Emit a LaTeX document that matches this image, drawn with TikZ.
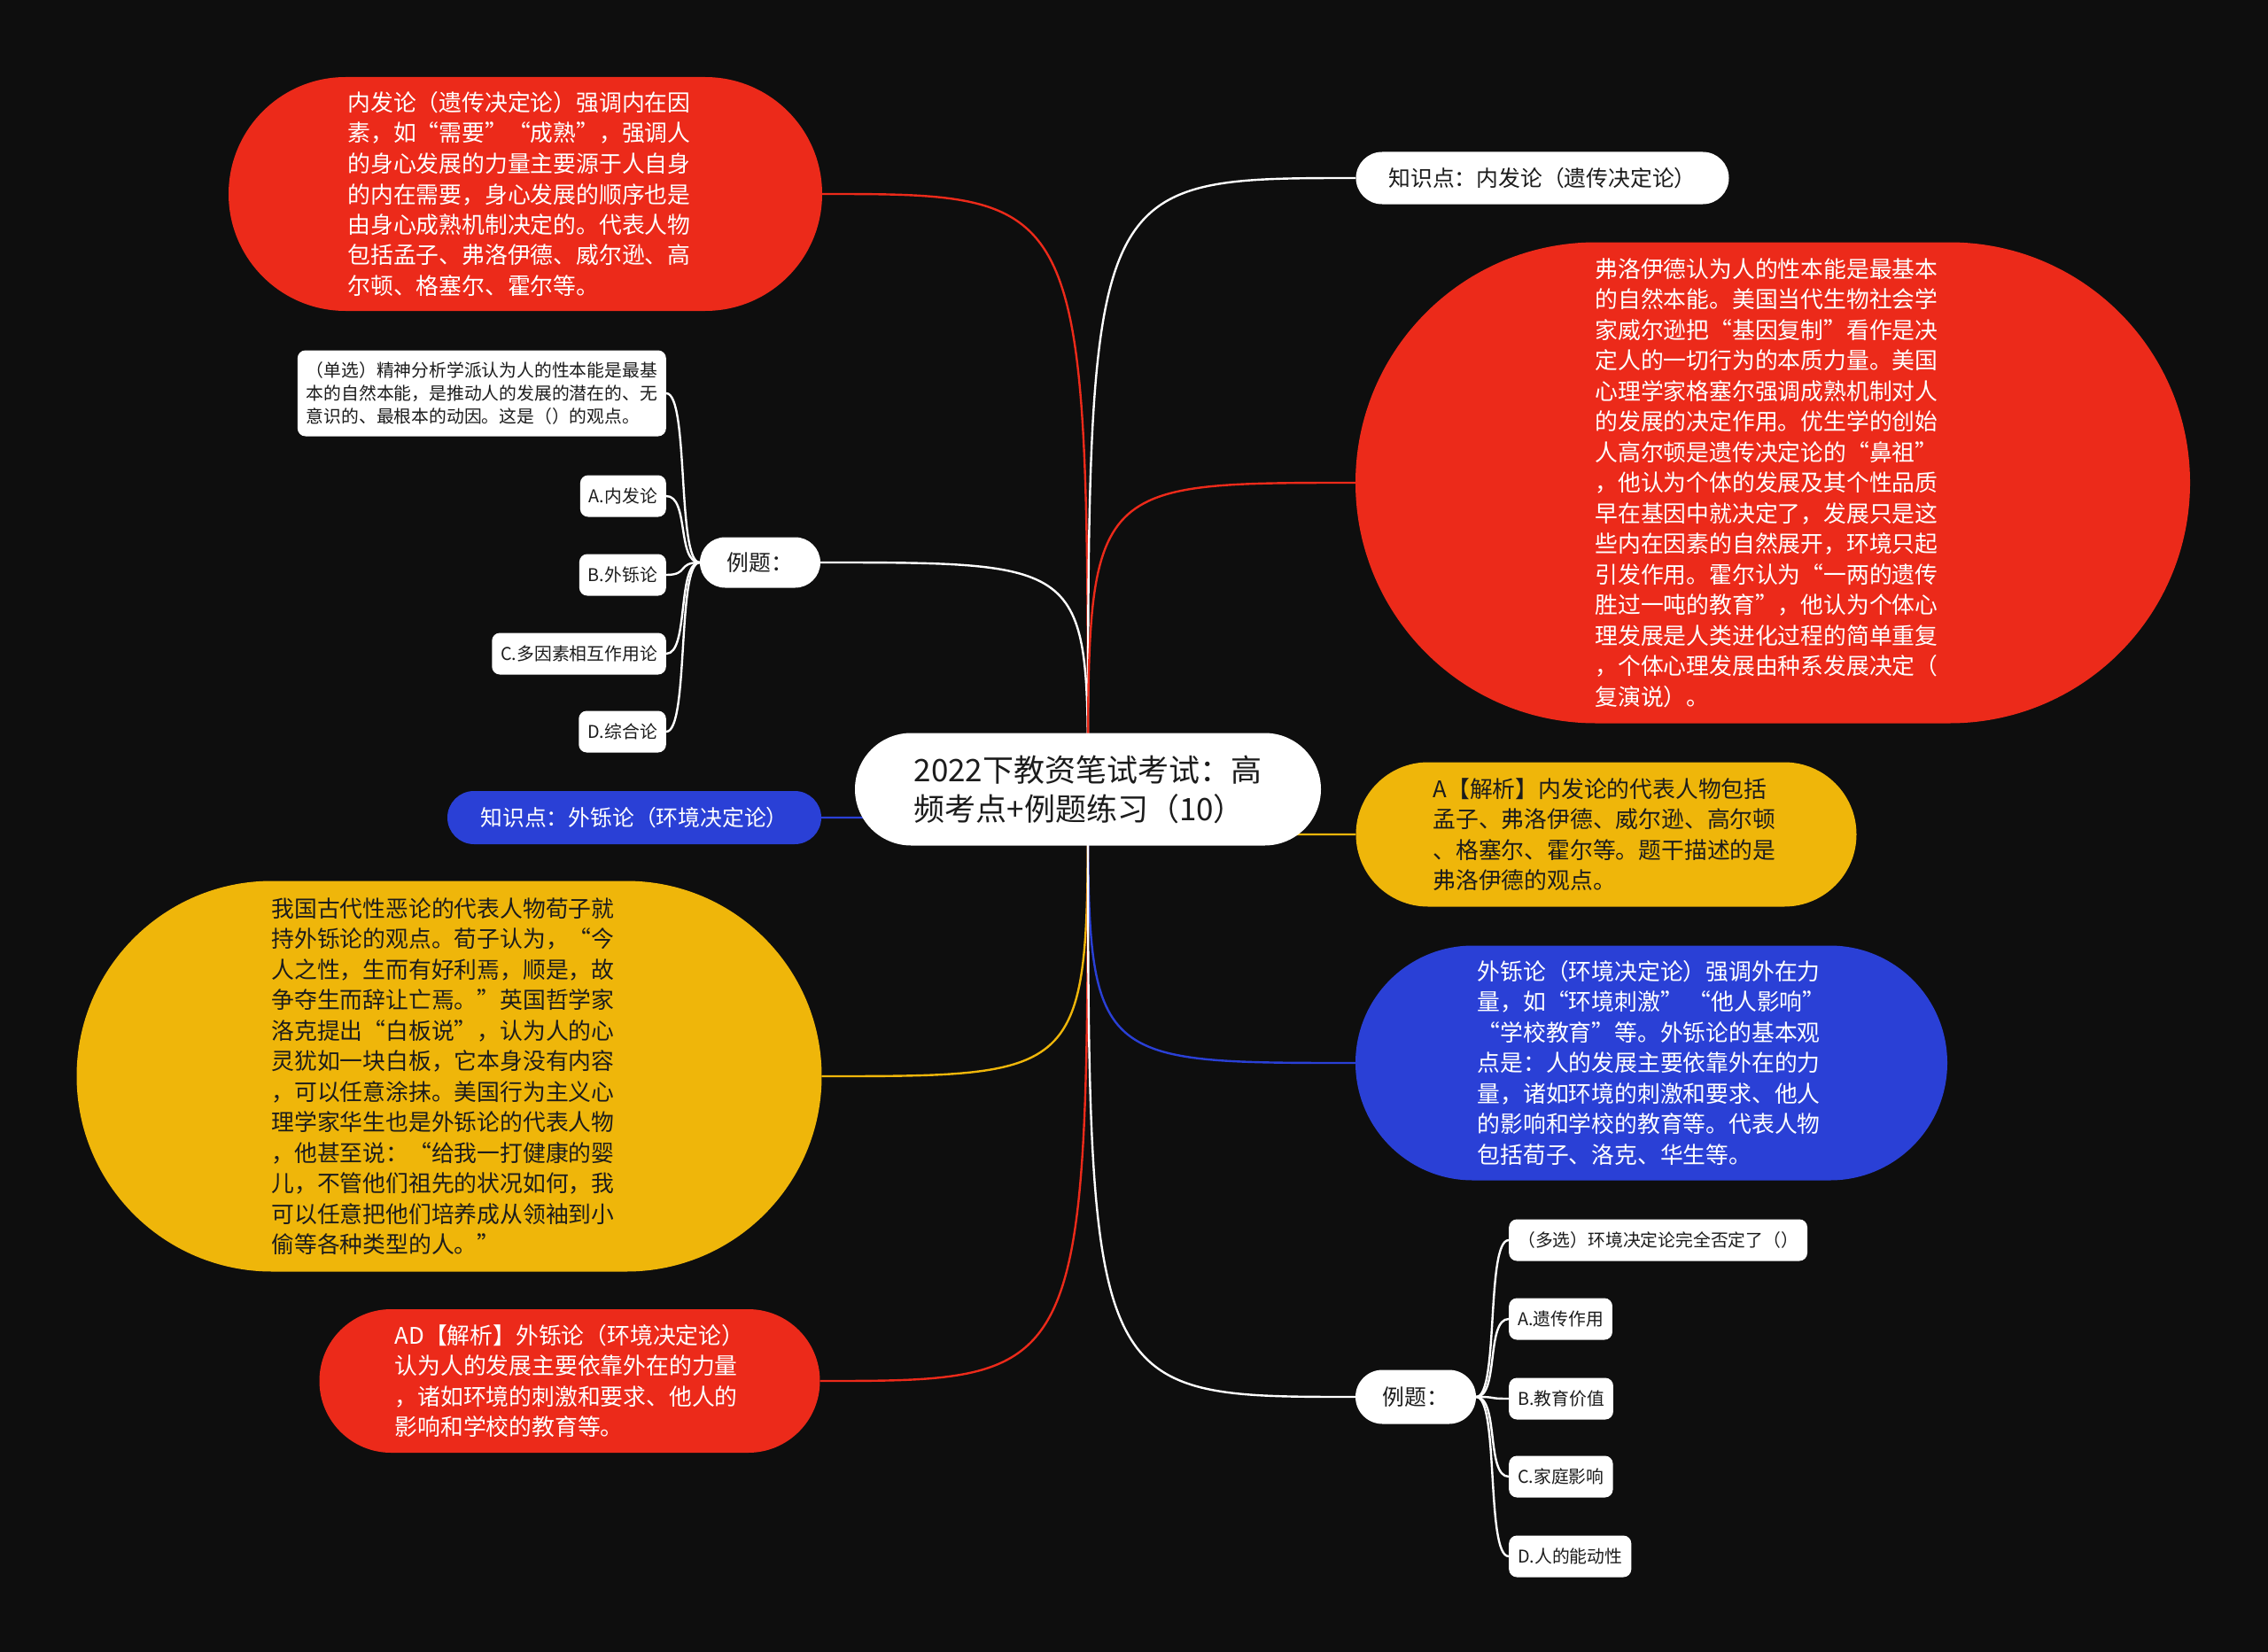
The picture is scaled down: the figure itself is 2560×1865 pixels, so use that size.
\documentclass[tikz,border=0pt]{standalone}
\usepackage{fontspec}
\setmainfont{Noto Sans CJK SC}
\usetikzlibrary{shapes.misc}

\definecolor{bgblack}{RGB}{14,14,14}
\definecolor{mapred}{RGB}{236,42,26}
\definecolor{mapyellow}{RGB}{239,182,10}
\definecolor{mapblue}{RGB}{42,64,214}
\definecolor{inkdark}{RGB}{28,28,28}

\pgfdeclarelayer{back}
\pgfdeclarelayer{links}
\pgfsetlayers{back,links,main}

\newcommand\tailpad{\kern14pt}

\tikzstyle{bubble} = [rounded rectangle, align=left, inner sep=0pt]
\tikzstyle{body} = [font=\fontsize{25.8}{34.5}\selectfont]
\tikzstyle{pill} = [rounded rectangle, fill=white, text=inkdark, inner sep=0pt,
	font=\fontsize{24.8}{30}\selectfont]
\tikzstyle{choice} = [rectangle, rounded corners=9pt, fill=white, text=inkdark,
	minimum height=47, inner xsep=10pt, align=left, font=\fontsize{19.8}{26}\selectfont]
\tikzstyle{conn} = [line width=2.4pt]

\begin{document}
\begin{tikzpicture}[x=1pt,y=-1pt]
\useasboundingbox (0,0) rectangle (2560,1865);
\begin{pgfonlayer}{back}
\fill[bgblack] (0,0) rectangle (2560,1865);
\end{pgfonlayer}

\node [bubble, fill=white, text=inkdark, minimum width=526, minimum height=127,
	font=\fontsize{35}{44}\selectfont] (root) at (1228,891)
	{2022下教资笔试考试：高\\频考点+例题练习（10）};

% left side
\node [bubble, body, fill=mapred, text=white, minimum width=670, minimum height=264] (nei) at (593,219)
	{内发论（遗传决定论）强调内在因\tailpad\\
	素，如“需要”“成熟”，强调人\\
	的身心发展的力量主要源于人自身\\
	的内在需要，身心发展的顺序也是\\
	由身心成熟机制决定的。代表人物\\
	包括孟子、弗洛伊德、威尔逊、高\\
	尔顿、格塞尔、霍尔等。};
\node [pill, minimum width=136, minimum height=57] (exl) at (858,635) {例题：};
\node [choice, anchor=east, minimum height=97] (ql) at (752,444)
	{（单选）精神分析学派认为人的性本能是最基\\
	本的自然本能，是推动人的发展的潜在的、无\\
	意识的、最根本的动因。这是（）的观点。};
\node [choice, anchor=east] (al) at (752,560) {A.内发论};
\node [choice, anchor=east] (bl) at (752,649) {B.外铄论};
\node [choice, anchor=east] (cl) at (752,738) {C.多因素相互作用论};
\node [choice, anchor=east] (dl) at (752,826) {D.综合论};
\node [pill, fill=mapblue, text=white, minimum width=422, minimum height=60] (waik) at (716,923)
	{知识点：外铄论（环境决定论）};
\node [bubble, body, fill=mapyellow, text=inkdark, minimum width=841, minimum height=441] (xunzi) at (507,1215)
	{我国古代性恶论的代表人物荀子就\tailpad\\
	持外铄论的观点。荀子认为，“今\\
	人之性，生而有好利焉，顺是，故\\
	争夺生而辞让亡焉。”英国哲学家\\
	洛克提出“白板说”，认为人的心\\
	灵犹如一块白板，它本身没有内容\\
	，可以任意涂抹。美国行为主义心\\
	理学家华生也是外铄论的代表人物\\
	，他甚至说：“给我一打健康的婴\\
	儿，不管他们祖先的状况如何，我\\
	可以任意把他们培养成从领袖到小\\
	偷等各种类型的人。”};
\node [bubble, body, fill=mapred, text=white, minimum width=565, minimum height=162] (adjie) at (643,1559)
	{AD【解析】外铄论（环境决定论）\\
	认为人的发展主要依靠外在的力量\\
	，诸如环境的刺激和要求、他人的\\
	影响和学校的教育等。};

% right side
\node [pill, minimum width=421, minimum height=59] (neik) at (1741,201)
	{知识点：内发论（遗传决定论）};
\node [bubble, body, fill=mapred, text=white, minimum width=942, minimum height=543] (freud) at (2001,545)
	{弗洛伊德认为人的性本能是最基本\tailpad\\
	的自然本能。美国当代生物社会学\\
	家威尔逊把“基因复制”看作是决\\
	定人的一切行为的本质力量。美国\\
	心理学家格塞尔强调成熟机制对人\\
	的发展的决定作用。优生学的创始\\
	人高尔顿是遗传决定论的“鼻祖”\\
	，他认为个体的发展及其个性品质\\
	早在基因中就决定了，发展只是这\\
	些内在因素的自然展开，环境只起\\
	引发作用。霍尔认为“一两的遗传\\
	胜过一吨的教育”，他认为个体心\\
	理发展是人类进化过程的简单重复\\
	，个体心理发展由种系发展决定（\\
	复演说）。};
\node [bubble, body, fill=mapyellow, text=inkdark, minimum width=565, minimum height=163] (ajie) at (1813,942)
	{A【解析】内发论的代表人物包括\tailpad\\
	孟子、弗洛伊德、威尔逊、高尔顿\\
	、格塞尔、霍尔等。题干描述的是\\
	弗洛伊德的观点。};
\node [bubble, body, fill=mapblue, text=white, minimum width=668, minimum height=265] (wai) at (1864,1200)
	{外铄论（环境决定论）强调外在力\\
	量，如“环境刺激” “他人影响”\\
	“学校教育”等。外铄论的基本观\\
	点是：人的发展主要依靠外在的力\\
	量，诸如环境的刺激和要求、他人\\
	的影响和学校的教育等。代表人物\\
	包括荀子、洛克、华生等。};
\node [pill, minimum width=136, minimum height=61] (exr) at (1598,1577) {例题：};
\node [choice, anchor=west] (qr) at (1703,1400) {（多选）环境决定论完全否定了（）};
\node [choice, anchor=west] (ar) at (1703,1489) {A.遗传作用};
\node [choice, anchor=west] (br) at (1703,1579) {B.教育价值};
\node [choice, anchor=west] (cr) at (1703,1667) {C.家庭影响};
\node [choice, anchor=west] (dr) at (1703,1757) {D.人的能动性};

\begin{pgfonlayer}{links}
\draw [conn, mapred] (root.center) .. controls (root.center |- nei.east) .. (nei.east);
\draw [conn, white] (root.center) .. controls (root.center |- exl.east) .. (exl.east);
\draw [conn, mapblue] (root.center) .. controls (root.center |- waik.east) .. (waik.east);
\draw [conn, mapyellow] (root.center) .. controls (root.center |- xunzi.east) .. (xunzi.east);
\draw [conn, mapred] (root.center) .. controls (root.center |- adjie.east) .. (adjie.east);
\draw [conn, white] (root.center) .. controls (root.center |- neik.west) .. (neik.west);
\draw [conn, mapred] (root.center) .. controls (root.center |- freud.west) .. (freud.west);
\draw [conn, mapyellow] (root.center) .. controls (root.center |- ajie.west) .. (ajie.west);
\draw [conn, mapblue] (root.center) .. controls (root.center |- wai.west) .. (wai.west);
\draw [conn, white] (root.center) .. controls (root.center |- exr.west) .. (exr.west);
\foreach \c in {ql,al,bl,cl,dl}
	\draw [conn, white] (exl.west) .. controls +(-26,0) and +(26,0) .. (\c.east);
\foreach \c in {qr,ar,br,cr,dr}
	\draw [conn, white] (exr.east) .. controls +(26,0) and +(-26,0) .. (\c.west);
\end{pgfonlayer}
\end{tikzpicture}
\end{document}
